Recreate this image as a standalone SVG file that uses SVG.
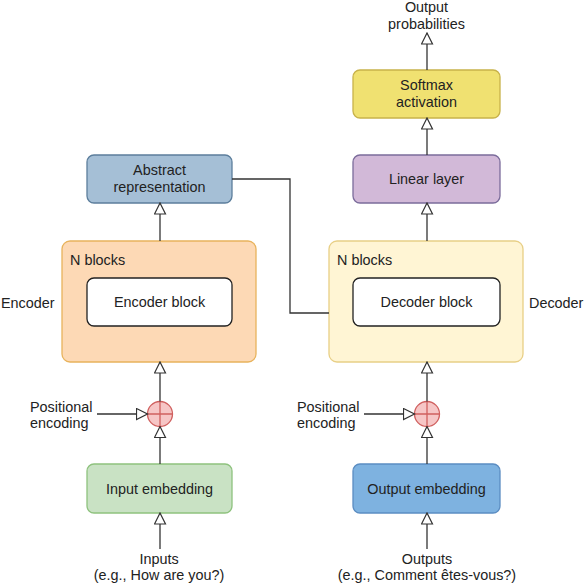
<svg xmlns="http://www.w3.org/2000/svg" width="584" height="585" viewBox="0 0 584 585">
<style>
text{font-family:"Liberation Sans",Arial,sans-serif;font-size:14.4px;fill:#222}
.c{text-anchor:middle}
.line{fill:none;stroke:#333;stroke-width:1.3}
</style>
<defs>
<marker id="ah" viewBox="0 0 13 13" refX="12" refY="6.5" markerWidth="13" markerHeight="13" markerUnits="userSpaceOnUse" orient="auto">
<path d="M1,1 L12,6.5 L1,12 Z" fill="#fff" stroke="#333" stroke-width="1.2"/>
</marker>
</defs>
<rect width="584" height="585" fill="#fff"/>

<g id="encoder">
<rect x="62" y="241" width="194" height="121" rx="8" fill="#fdd9b5" stroke="#e8b35c" stroke-width="1.3"/>
<text x="70" y="265">N blocks</text>
<text x="1" y="308">Encoder</text>
</g>
<g id="encoder-block">
<rect x="87" y="278" width="145" height="48" rx="7" fill="#fff" stroke="#222" stroke-width="1.3"/>
<text class="c" x="159.5" y="307">Encoder block</text>
</g>
<g id="decoder">
<rect x="329" y="241" width="194" height="121" rx="8" fill="#fff5d4" stroke="#e8cf86" stroke-width="1.3"/>
<text x="337" y="265">N blocks</text>
<text x="529" y="308">Decoder</text>
</g>
<g id="decoder-block">
<rect x="353" y="278" width="147" height="48" rx="7" fill="#fff" stroke="#222" stroke-width="1.3"/>
<text class="c" x="426.5" y="307">Decoder block</text>
</g>
<g id="abstract">
<rect x="87" y="155" width="145" height="48" rx="7" fill="#a5bfd6" stroke="#5c7e9c" stroke-width="1.3"/>
<text class="c" x="159.5" y="175">Abstract</text>
<text class="c" x="159.5" y="192">representation</text>
</g>
<g id="linear">
<rect x="353" y="155" width="147" height="48" rx="7" fill="#d2b9d8" stroke="#7b6c9b" stroke-width="1.3"/>
<text class="c" x="426.5" y="184">Linear layer</text>
</g>
<g id="softmax">
<rect x="353" y="70" width="147" height="48" rx="7" fill="#f0e171" stroke="#c8b24a" stroke-width="1.3"/>
<text class="c" x="426.5" y="90">Softmax</text>
<text class="c" x="426.5" y="107">activation</text>
</g>
<g id="output-probabilities">
<text class="c" x="426.5" y="12">Output</text>
<text class="c" x="426.5" y="29">probabilities</text>
</g>
<g id="input-embedding">
<rect x="87" y="464" width="145" height="49" rx="7" fill="#c9e2c4" stroke="#8ec27e" stroke-width="1.3"/>
<text class="c" x="159.5" y="494">Input embedding</text>
</g>
<g id="output-embedding">
<rect x="353" y="464" width="147" height="49" rx="7" fill="#7eb2e0" stroke="#5b8dc2" stroke-width="1.3"/>
<text class="c" x="426.5" y="494">Output embedding</text>
</g>
<g id="plus-enc">
<circle cx="160" cy="414" r="12.5" fill="#f6c6c6" stroke="#d0605f" stroke-width="1.3"/>
<path d="M147.5,414 H172.5 M160,401.5 V426.5" stroke="#d0605f" stroke-width="1.3"/>
</g>
<g id="plus-dec">
<circle cx="427" cy="414" r="12.5" fill="#f6c6c6" stroke="#d0605f" stroke-width="1.3"/>
<path d="M414.5,414 H439.5 M427,401.5 V426.5" stroke="#d0605f" stroke-width="1.3"/>
</g>
<g id="pos-enc-label">
<text x="30" y="412">Positional</text>
<text x="30" y="428">encoding</text>
</g>
<g id="pos-dec-label">
<text x="297" y="412">Positional</text>
<text x="297" y="428">encoding</text>
</g>
<g id="inputs">
<text class="c" x="159" y="564">Inputs</text>
<text class="c" x="159" y="580">(e.g., How are you?)</text>
</g>
<g id="outputs">
<text class="c" x="427" y="564">Outputs</text>
<text class="c" x="427" y="580">(e.g., Comment êtes-vous?)</text>
</g>

<g id="connectors" class="line">
<path class="line" d="M160,549 V513" marker-end="url(#ah)"/>
<path class="line" d="M160,464 V426.5" marker-end="url(#ah)"/>
<path class="line" d="M97,414 H147.5" marker-end="url(#ah)"/>
<path class="line" d="M160,401.5 V362" marker-end="url(#ah)"/>
<path class="line" d="M160,241 V203" marker-end="url(#ah)"/>
<path class="line" d="M232,179 H290 V313 H329"/>
<path class="line" d="M427,549 V513" marker-end="url(#ah)"/>
<path class="line" d="M427,464 V426.5" marker-end="url(#ah)"/>
<path class="line" d="M364,414 H414.5" marker-end="url(#ah)"/>
<path class="line" d="M427,401.5 V362" marker-end="url(#ah)"/>
<path class="line" d="M427,241 V203" marker-end="url(#ah)"/>
<path class="line" d="M427,155 V118" marker-end="url(#ah)"/>
<path class="line" d="M427,70 V33" marker-end="url(#ah)"/>
</g>
</svg>
